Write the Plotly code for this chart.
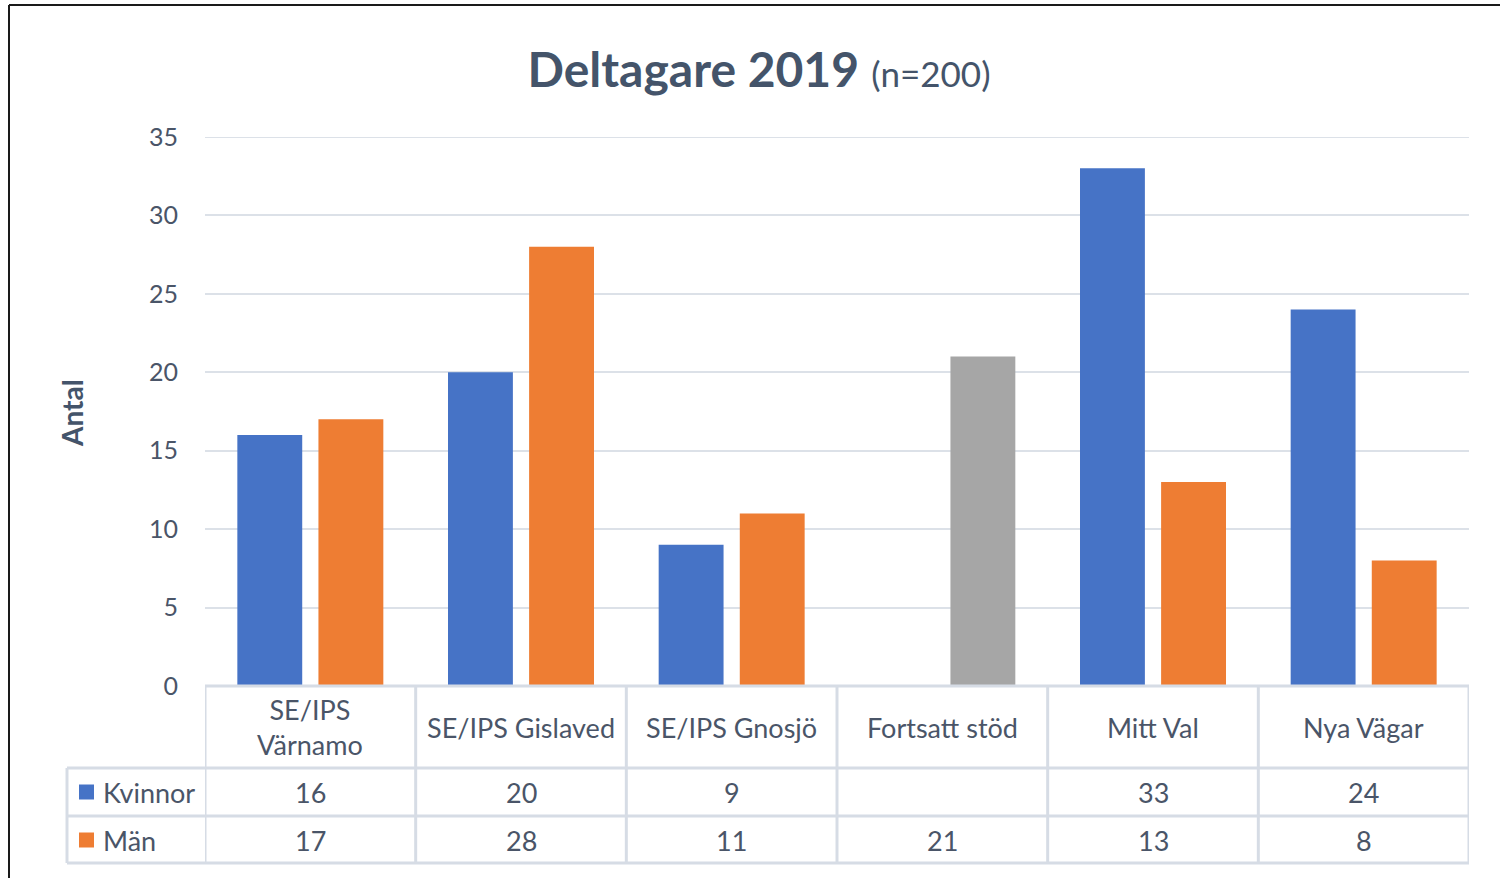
import plotly.graph_objects as go

# ---- data ----
categories = ["SE/IPS<br>Värnamo", "SE/IPS Gislaved", "SE/IPS Gnosjö", "Fortsatt stöd", "Mitt Val", "Nya Vägar"]
series_names = ["Kvinnor", "Män"]
kvinnor = [16, 20, 9, None, 33, 24]
man = [17, 28, 11, 21, 13, 8]
y_ticks = [0, 5, 10, 15, 20, 25, 30, 35]
title_main = "Deltagare 2019"
title_sub = "(n=200)"
y_title = "Antal"

# ---- style ----
BLUE = "#4673C6"
ORANGE = "#EE7D33"
GRAY = "#A6A6A6"
TXT = "#4A5568"
TITLE_C = "#44546A"
GRID = "#DCE1E8"
TABLE_LINE = "#D6DCE5"
FONT = "Lato"

W, H = 1500, 878
L, R, T, B = 205, 31, 137, 192
PW, PH = W - L - R, H - T - B


def px_x(px):
    return (px - L) / PW


def px_y(py):
    return (H - B - py) / PH


man_colors = [GRAY if k is None else ORANGE for k in kvinnor]

fig = go.Figure()
fig.add_trace(go.Bar(x=categories, y=kvinnor, name=series_names[0],
                     marker=dict(color=BLUE, line=dict(width=0))))
fig.add_trace(go.Bar(x=categories, y=man, name=series_names[1],
                     marker=dict(color=man_colors, line=dict(width=0))))

shapes = []
annotations = []

# top gridline (at the edge of the range)
shapes.append(dict(type="line", xref="paper", yref="y", x0=0, x1=1,
                   y0=y_ticks[-1], y1=y_ticks[-1], layer="below",
                   line=dict(color=GRID, width=2)))

# table geometry (pixels)
row_tops = [686, 768, 816, 863]
row_centers = [727, 792, 840]
left_col = 67

# horizontal table lines
shapes.append(dict(type="line", xref="paper", yref="paper", x0=0, x1=1,
                   y0=px_y(row_tops[0]), y1=px_y(row_tops[0]),
                   line=dict(color=TABLE_LINE, width=3)))
for ry in row_tops[1:]:
    shapes.append(dict(type="line", xref="paper", yref="paper", x0=px_x(left_col), x1=1,
                       y0=px_y(ry), y1=px_y(ry), line=dict(color=TABLE_LINE, width=3)))
# vertical table lines at category boundaries
for i in range(len(categories) + 1):
    shapes.append(dict(type="line", xref="x", yref="paper", x0=i - 0.5, x1=i - 0.5,
                       y0=px_y(row_tops[0]), y1=px_y(row_tops[-1]),
                       line=dict(color=TABLE_LINE, width=3)))
shapes.append(dict(type="line", xref="paper", yref="paper", x0=px_x(left_col), x1=px_x(left_col),
                   y0=px_y(row_tops[1]), y1=px_y(row_tops[-1]),
                   line=dict(color=TABLE_LINE, width=3)))

# outer frame (black line on left and top)
shapes.append(dict(type="line", xref="paper", yref="paper", x0=px_x(9), x1=px_x(9),
                   y0=px_y(5), y1=px_y(900), line=dict(color="#1A1A1A", width=2)))
shapes.append(dict(type="line", xref="paper", yref="paper", x0=px_x(9), x1=px_x(1510),
                   y0=px_y(5), y1=px_y(5), line=dict(color="#1A1A1A", width=2)))

# category header texts
for c in categories:
    annotations.append(dict(x=c, xref="x", y=px_y(row_centers[0]), yref="paper",
                            text=c, showarrow=False, xanchor="center", yanchor="middle",
                            font=dict(family=FONT, size=27, color=TXT)))
# values rows
for r, (name, vals, col) in enumerate(zip(series_names, [kvinnor, man], [BLUE, ORANGE])):
    yc = px_y(row_centers[r + 1])
    for c, v in zip(categories, vals):
        if v is None:
            continue
        annotations.append(dict(x=c, xref="x", y=yc, yref="paper", text=str(v),
                                showarrow=False, xanchor="center", yanchor="middle",
                                font=dict(family=FONT, size=27, color=TXT)))
    # legend key
    shapes.append(dict(type="rect", xref="paper", yref="paper",
                       x0=px_x(79), x1=px_x(94),
                       y0=yc - 7.5 / PH, y1=yc + 7.5 / PH,
                       fillcolor=col, line=dict(width=0)))
    annotations.append(dict(x=px_x(101), xref="paper", y=yc, yref="paper", text=name,
                            showarrow=False, xanchor="left", yanchor="middle",
                            font=dict(family=FONT, size=27, color=TXT)))

# y axis title
annotations.append(dict(x=px_x(72), xref="paper", y=px_y(413), yref="paper", text=f"<b>{y_title}</b>",
                        showarrow=False, textangle=-90, xanchor="center", yanchor="middle",
                        font=dict(family=FONT, size=28, color=TITLE_C)))

fig.update_layout(
    width=W, height=H,
    margin=dict(l=L, r=R, t=T, b=B),
    paper_bgcolor="white", plot_bgcolor="white",
    showlegend=False,
    barmode="group", bargap=0.23, bargroupgap=0.2,
    title=dict(text=f"<b>{title_main}</b> <span style='font-size:35px'>{title_sub}</span>",
               x=px_x(759), xanchor="center", xref="paper",
               y=1 - 70 / H, yanchor="middle",
               font=dict(family=FONT, size=48, color=TITLE_C)),
    xaxis=dict(type="category", range=[-0.5, len(categories) - 0.5], showticklabels=False,
               showgrid=False, zeroline=False, showline=False, ticks=""),
    yaxis=dict(range=[0, 35], tickvals=y_ticks, showgrid=True, gridcolor=GRID, gridwidth=2,
               zeroline=False, showline=False, ticks="", ticklabelstandoff=26,
               tickfont=dict(family=FONT, size=25, color=TXT)),
    shapes=shapes, annotations=annotations,
)

fig.write_html("out.html", config={"displayModeBar": False},
               post_script="document.body.style.margin='0';document.body.style.overflow='hidden';")
